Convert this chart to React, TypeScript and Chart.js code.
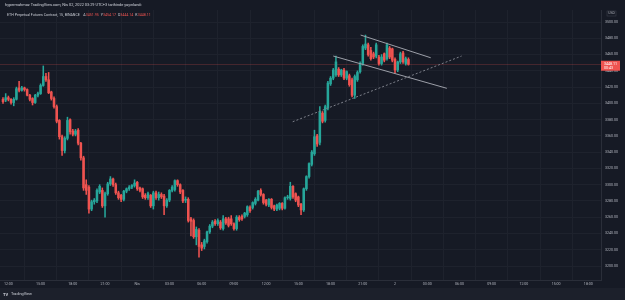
import React, { useEffect, useRef } from "react";
import { Chart, registerables } from "chart.js";

Chart.register(...registerables);

// ---- DATA ----
const opens = [
  3405, 3404, 3407, 3405, 3401, 3405, 3419, 3416, 3419, 3417, 3410, 3406, 3401, 3410, 3412, 3422, 3433, 3429, 3414, 3406,
  3396, 3379, 3359, 3342, 3357, 3380, 3366, 3362, 3367, 3351, 3333, 3300, 3297, 3270, 3279, 3280, 3291, 3293, 3274, 3289,
  3301, 3307, 3300, 3290, 3287, 3282, 3292, 3295, 3297, 3299, 3303, 3296, 3295, 3287, 3284, 3287, 3274, 3290, 3284, 3288,
  3286, 3274, 3281, 3293, 3294, 3305, 3300, 3293, 3281, 3282, 3258, 3256, 3236, 3244, 3226, 3224, 3230, 3242, 3249, 3255,
  3252, 3254, 3246, 3258, 3258, 3258, 3252, 3246, 3260, 3261, 3261, 3263, 3272, 3272, 3277, 3281, 3293, 3288, 3281, 3275,
  3282, 3274, 3270, 3271, 3277, 3271, 3284, 3283, 3298, 3289, 3285, 3276, 3269, 3295, 3310, 3325, 3338, 3360, 3352, 3388,
  3379, 3394, 3424, 3431, 3435, 3442, 3435, 3441, 3431, 3434, 3429, 3410, 3429, 3439, 3449, 3468, 3472, 3465, 3461, 3458,
  3457, 3449, 3461, 3455, 3468, 3467, 3454, 3441, 3451, 3462, 3449, 3454,
];
const highs = [
  3407, 3412, 3409, 3406, 3407, 3420, 3427, 3421, 3420, 3418, 3411, 3407, 3411, 3414, 3424, 3446, 3437, 3438, 3415, 3408,
  3398, 3380, 3361, 3359, 3383, 3381, 3368, 3368, 3369, 3352, 3335, 3306, 3299, 3281, 3283, 3295, 3300, 3296, 3291, 3303,
  3310, 3308, 3302, 3292, 3288, 3293, 3296, 3299, 3300, 3306, 3304, 3297, 3296, 3289, 3291, 3288, 3292, 3292, 3291, 3290,
  3288, 3283, 3294, 3299, 3306, 3306, 3301, 3294, 3285, 3284, 3260, 3258, 3248, 3246, 3229, 3233, 3243, 3251, 3256, 3257,
  3258, 3256, 3262, 3260, 3260, 3262, 3253, 3262, 3262, 3263, 3266, 3274, 3274, 3279, 3284, 3293, 3295, 3289, 3282, 3283,
  3283, 3275, 3276, 3278, 3278, 3285, 3287, 3303, 3299, 3290, 3286, 3277, 3296, 3311, 3327, 3342, 3367, 3362, 3396, 3390,
  3398, 3427, 3433, 3443, 3458, 3444, 3442, 3443, 3440, 3436, 3431, 3435, 3440, 3451, 3472, 3484, 3474, 3469, 3463, 3474,
  3459, 3460, 3462, 3474, 3470, 3468, 3456, 3452, 3463, 3464, 3457, 3456,
];
const lows = [
  3400, 3402, 3403, 3399, 3397, 3404, 3414, 3415, 3415, 3409, 3403, 3398, 3400, 3408, 3411, 3421, 3427, 3412, 3404, 3394,
  3376, 3356, 3336, 3339, 3355, 3362, 3360, 3360, 3349, 3330, 3293, 3288, 3265, 3268, 3276, 3278, 3289, 3272, 3260, 3287,
  3299, 3298, 3288, 3282, 3279, 3280, 3290, 3293, 3295, 3297, 3293, 3291, 3283, 3282, 3282, 3272, 3270, 3282, 3281, 3283,
  3263, 3272, 3279, 3291, 3292, 3298, 3289, 3278, 3278, 3254, 3237, 3234, 3226, 3211, 3219, 3221, 3228, 3240, 3247, 3250,
  3250, 3245, 3244, 3251, 3248, 3250, 3244, 3244, 3255, 3256, 3259, 3261, 3266, 3270, 3275, 3280, 3286, 3276, 3274, 3273,
  3270, 3268, 3268, 3269, 3269, 3270, 3282, 3281, 3283, 3279, 3273, 3263, 3267, 3293, 3308, 3323, 3336, 3347, 3349, 3376,
  3377, 3392, 3422, 3429, 3433, 3433, 3433, 3429, 3429, 3421, 3408, 3406, 3427, 3437, 3447, 3466, 3458, 3453, 3455, 3456,
  3447, 3447, 3451, 3453, 3455, 3451, 3437, 3439, 3449, 3449, 3447, 3447,
];
const closes = [
  3402, 3407, 3405, 3401, 3405, 3418, 3416, 3419, 3417, 3410, 3405, 3401, 3410, 3412, 3422, 3433, 3429, 3413, 3406, 3396,
  3378, 3359, 3342, 3357, 3379, 3365, 3362, 3366, 3351, 3333, 3296, 3293, 3270, 3279, 3281, 3293, 3298, 3274, 3289, 3301,
  3307, 3300, 3290, 3284, 3282, 3292, 3295, 3297, 3299, 3302, 3295, 3293, 3285, 3284, 3289, 3274, 3290, 3284, 3288, 3285,
  3274, 3281, 3293, 3297, 3305, 3300, 3291, 3280, 3282, 3256, 3255, 3236, 3245, 3224, 3222, 3231, 3242, 3249, 3254, 3252,
  3256, 3247, 3258, 3253, 3250, 3252, 3246, 3260, 3257, 3258, 3265, 3273, 3268, 3278, 3282, 3292, 3288, 3278, 3276, 3282,
  3272, 3270, 3275, 3277, 3271, 3284, 3285, 3298, 3285, 3281, 3275, 3269, 3295, 3310, 3326, 3340, 3359, 3350, 3390, 3378,
  3396, 3425, 3431, 3441, 3451, 3435, 3441, 3431, 3439, 3423, 3410, 3433, 3438, 3449, 3470, 3473, 3460, 3455, 3457, 3472,
  3449, 3457, 3453, 3472, 3457, 3453, 3441, 3451, 3461, 3451, 3455, 3448,
];

// time axis labels (one every 12 bars of 15 minutes, first at bar 2)
const timeLabels = [
  "12:00", "15:00", "18:00", "21:00", "Nis", "03:00", "06:00", "09:00", "12:00", "15:00",
  "18:00", "21:00", "2", "03:00", "06:00", "09:00", "12:00", "15:00", "18:00",
];
const firstTickBar = 2;
const barsPerTick = 12;

const priceMin = 3182.8;
const priceMax = 3514.8;
const priceStep = 20;

const lastPrice = 3448.11;
const countdown = "00:43";

const headerText = "hypermahmoz TradingView.com, Nis 02, 2022 03:29 UTC+3 tarihinde yayınlandı";
const symbolText = "ETH Perpetual Futures Contract, 15, BINANCE";
const ohlcLetters = ["A", "Y", "D", "K"];
const ohlcValues = ["3451.95", "3454.17", "3444.14", "3448.11"];

// user drawings: [barIndex, price] endpoints
const lineStarts = [[133.2, 3484.0], [123.0, 3458.2], [107.9, 3377.4]];
const lineEnds = [[159.3, 3456.1], [165.3, 3418.5], [170.8, 3458.2]];
const lineDashed = [false, false, true];

// ---- STYLE ----
const BG = "#161a25";
const GRID = "#1e222d";
const AXIS = "#2a2e39";
const TEXT = "#b2b5be";
const UP = "#26a69a";
const DOWN = "#ef5350";
const FONT = "Roboto, 'Liberation Sans', sans-serif";

const X_MIN = -3 / 2.685;
const X_MAX = X_MIN + 601 / 2.685;

export default function App() {
  const ref = useRef<HTMLCanvasElement | null>(null);

  useEffect(() => {
    const canvas = ref.current;
    if (!canvas) return;
    const idx = closes.map((_, i) => i);
    const colors = idx.map((i) => (closes[i] >= opens[i] ? UP : DOWN));

    const overlay = {
      id: "overlay",
      beforeDraw(chart: any) {
        const { ctx, width, height } = chart;
        ctx.save();
        ctx.fillStyle = BG;
        ctx.fillRect(0, 0, width, height);
        ctx.fillStyle = "#1c202b";
        ctx.fillRect(0, 288, width, height - 288);
        ctx.restore();
      },
      beforeDatasetsDraw(chart: any) {
        const { ctx, chartArea, scales } = chart;
        const y = Math.round(scales.y.getPixelForValue(lastPrice)) + 0.5;
        ctx.save();
        ctx.strokeStyle = "rgba(239,83,80,0.22)";
        ctx.lineWidth = 1;
        ctx.beginPath();
        ctx.moveTo(chartArea.left, y);
        ctx.lineTo(chartArea.right, y);
        ctx.stroke();
        ctx.restore();
      },
      afterDatasetsDraw(chart: any) {
        const { ctx, chartArea, scales } = chart;
        ctx.save();
        ctx.beginPath();
        ctx.rect(chartArea.left, chartArea.top, chartArea.right - chartArea.left, chartArea.bottom - chartArea.top);
        ctx.clip();
        lineStarts.forEach((s, k) => {
          const e = lineEnds[k];
          ctx.beginPath();
          ctx.lineWidth = 1;
          if (lineDashed[k]) {
            ctx.setLineDash([2, 2]);
            ctx.strokeStyle = "#7d808a";
          } else {
            ctx.setLineDash([]);
            ctx.strokeStyle = "#9c9fa8";
          }
          ctx.moveTo(scales.x.getPixelForValue(s[0]), scales.y.getPixelForValue(s[1]));
          ctx.lineTo(scales.x.getPixelForValue(e[0]), scales.y.getPixelForValue(e[1]));
          ctx.stroke();
        });
        ctx.restore();
      },
      afterDraw(chart: any) {
        const { ctx, chartArea, scales } = chart;
        ctx.save();
        // header
        ctx.textBaseline = "middle";
        ctx.textAlign = "left";
        ctx.fillStyle = "#d1d4dc";
        ctx.font = `3.9px ${FONT}`;
        ctx.fillText(headerText, 5, 5);
        ctx.font = `3.6px ${FONT}`;
        ctx.fillStyle = "#c8cbd3";
        ctx.fillText(symbolText, 7, 15);
        let x = 7 + ctx.measureText(symbolText).width + 3.5;
        ohlcLetters.forEach((l, k) => {
          ctx.fillStyle = "#c8cbd3";
          ctx.fillText(l, x, 15);
          x += ctx.measureText(l).width;
          ctx.fillStyle = DOWN;
          ctx.fillText(ohlcValues[k], x, 15);
          x += ctx.measureText(ohlcValues[k]).width + 2;
        });
        // USD
        ctx.fillStyle = TEXT;
        ctx.font = `3.4px ${FONT}`;
        ctx.textAlign = "center";
        ctx.fillText("USD", 611.5, 13.5);
        ctx.strokeStyle = "#3a3e49";
        ctx.lineWidth = 0.6;
        ctx.strokeRect(607, 11, 9, 5);
        // price label
        const py = scales.y.getPixelForValue(lastPrice);
        ctx.fillStyle = DOWN;
        ctx.fillRect(chartArea.right, py - 3.5, 19, 10);
        ctx.fillStyle = "#ffffff";
        ctx.textAlign = "left";
        ctx.font = `3.6px ${FONT}`;
        ctx.fillText(lastPrice.toFixed(2), chartArea.right + 3, py);
        ctx.fillText(countdown, chartArea.right + 3, py + 4.3);
        // footer logo
        ctx.fillStyle = "#d1d4dc";
        ctx.font = `bold 4px ${FONT}`;
        ctx.fillText("TV", 3, 294.5);
        ctx.font = `3.8px ${FONT}`;
        ctx.fillText("TradingView", 11, 294.5);
        ctx.restore();
      },
    };

    const chart = new Chart(canvas, {
      type: "bar",
      data: {
        datasets: [
          {
            label: "wick",
            data: idx.map((i) => ({ x: i, y: [lows[i], highs[i]] })) as any,
            backgroundColor: colors,
            barThickness: 0.9,
            grouped: false,
            order: 2,
          } as any,
          {
            label: "body",
            data: idx.map((i) => ({ x: i, y: [opens[i], closes[i]] })) as any,
            backgroundColor: colors,
            barThickness: 1.9,
            minBarLength: 0.8,
            grouped: false,
            order: 1,
          } as any,
        ],
      },
      options: {
        animation: false,
        responsive: false,
        maintainAspectRatio: false,
        layout: { padding: { top: 10, bottom: 12, left: 0, right: 0 } },
        plugins: { legend: { display: false }, tooltip: { enabled: false } },
        scales: {
          x: {
            type: "linear",
            min: X_MIN,
            max: X_MAX,
            offset: false,
            grid: { color: GRID, drawTicks: false, lineWidth: 1 },
            border: { display: true, color: AXIS },
            ticks: {
              autoSkip: false,
              maxRotation: 0,
              color: TEXT,
              padding: 2.2,
              font: { size: 3.6, family: FONT },
              callback: (_v: any, i: number) => timeLabels[i] ?? "",
            },
            afterBuildTicks: (scale: any) => {
              scale.ticks = timeLabels.map((_, k) => ({ value: firstTickBar + k * barsPerTick }));
            },
            afterFit: (scale: any) => {
              scale.height = 8;
            },
          } as any,
          y: {
            position: "right",
            min: priceMin,
            max: priceMax,
            grid: { color: GRID, drawTicks: false, lineWidth: 1 },
            border: { display: true, color: AXIS },
            ticks: {
              stepSize: priceStep,
              includeBounds: false,
              color: TEXT,
              padding: 4,
              font: { size: 3.6, family: FONT },
              callback: (v: any) => Number(v).toFixed(2),
            },
            afterFit: (scale: any) => {
              scale.width = 24;
            },
          } as any,
        },
      },
      plugins: [overlay],
    });
    return () => chart.destroy();
  }, []);

  return (
    <div style={{ position: "fixed", left: 0, top: 0, width: 625, height: 300, background: BG }}>
      <canvas ref={ref} width={625} height={300} style={{ display: "block", width: 625, height: 300 }} />
    </div>
  );
}
